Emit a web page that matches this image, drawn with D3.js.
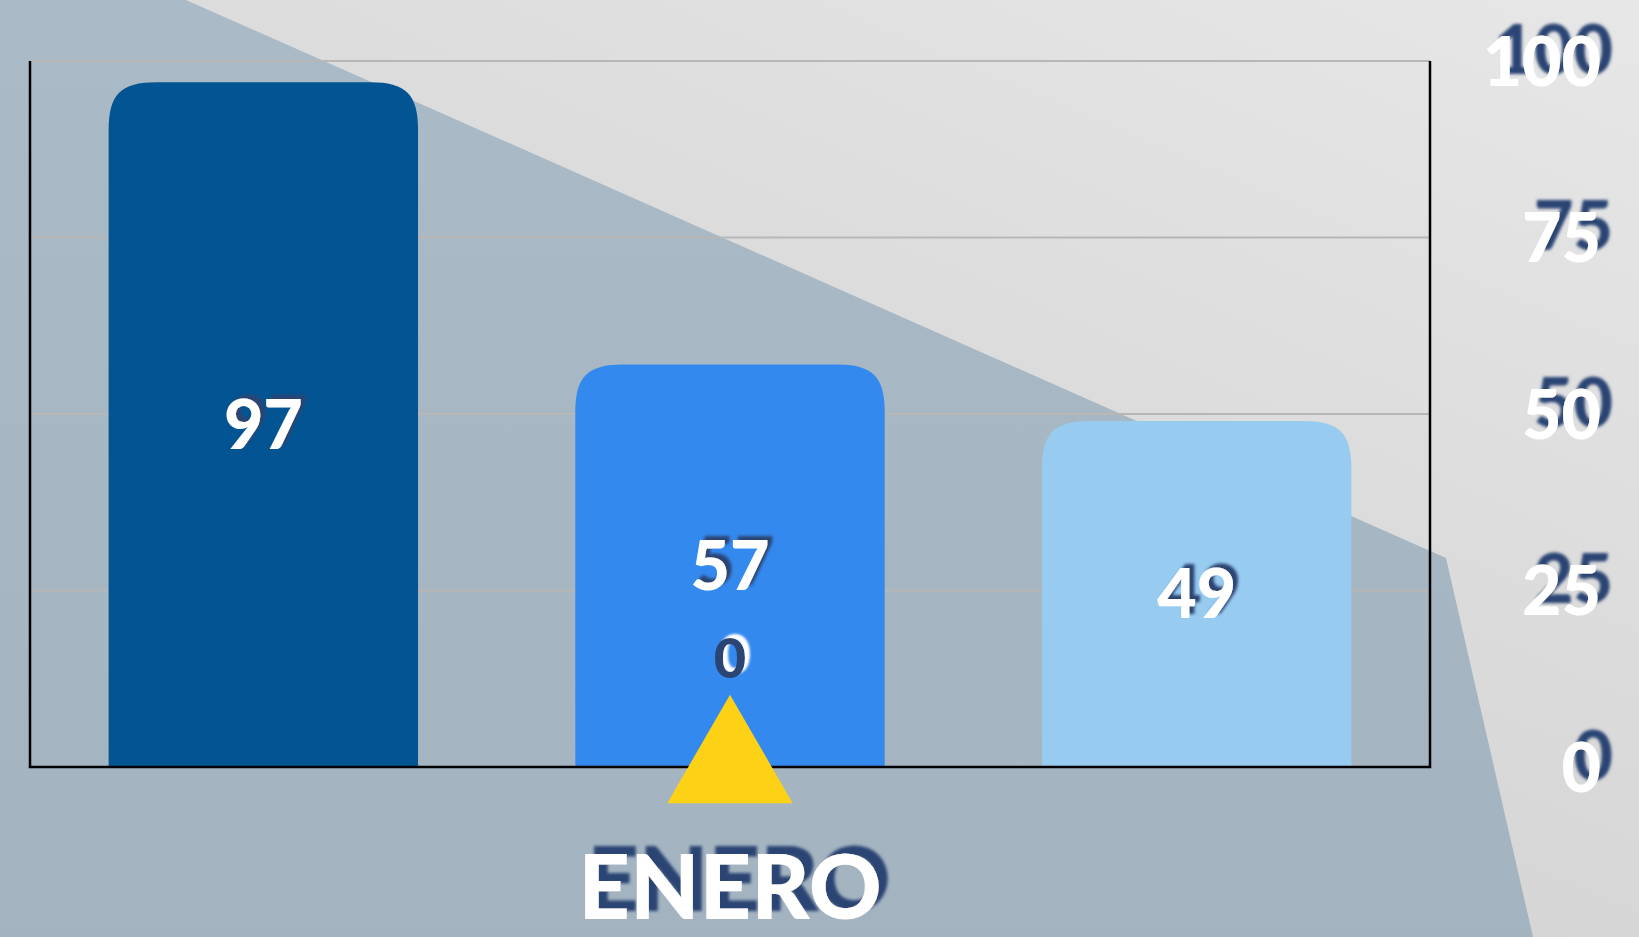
<!DOCTYPE html>
<html>
<head>
<meta charset="utf-8">
<script src="https://cdn.jsdelivr.net/npm/d3@7"></script>
<style>
  html, body { margin: 0; padding: 0; overflow: hidden; background: #d8d8d8; }
  svg { display: block; }
  text { font-family: Lato, "Open Sans", sans-serif; font-weight: 900; }
</style>
</head>
<body>
<svg id="chart" width="1639" height="937"></svg>
<script>
// ---- data ----
const categories = ["ENERO"];
const seriesNames = ["Serie 1", "Serie 2", "Serie 3"];
const seriesValues = [97, 57, 49];
const seriesColors = ["#025492", "#3489EF", "#98CBF0"];
const markerValues = [0];          // triangle marker series (shown on middle bar)
const tickValues = [0, 25, 50, 75, 100];

// ---- layout ----
const W = 1639, H = 937;
const plot = { left: 30, right: 1430, top: 61, bottom: 767 };

const svg = d3.select("#chart");
const defs = svg.append("defs");

const bg = defs.append("linearGradient").attr("id", "bg")
  .attr("x1", "1").attr("y1", "0").attr("x2", "0.25").attr("y2", "1");
bg.append("stop").attr("offset", "0").attr("stop-color", "#e7e7e7");
bg.append("stop").attr("offset", "1").attr("stop-color", "#cdcdcd");

const pg = defs.append("linearGradient").attr("id", "poly")
  .attr("x1", "0").attr("y1", "0").attr("x2", "0").attr("y2", "1");
pg.append("stop").attr("offset", "0").attr("stop-color", "#aabac7");
pg.append("stop").attr("offset", "1").attr("stop-color", "#a3b3c0");

function shadow(id, dx, dy, sd, color) {
  const f = defs.append("filter").attr("id", id)
    .attr("x", "-40%").attr("y", "-60%").attr("width", "180%").attr("height", "220%");
  f.append("feDropShadow").attr("dx", dx).attr("dy", dy)
    .attr("stdDeviation", sd).attr("flood-color", color).attr("flood-opacity", 1);
}
shadow("shTick", 12, -12, 1.6, "#2a4573");
shadow("shBar", 5, -4, 1.6, "#2a4573");
shadow("shCat", 9, -8, 1.6, "#2a4573");
shadow("shZero", 5, -4, 1.2, "#ffffff");

// background
svg.append("rect").attr("width", W).attr("height", H).attr("fill", "url(#bg)");
svg.append("path")
  .attr("d", "M0,0 L186,0 L1446,558 L1533,937 L0,937 Z")
  .attr("fill", "url(#poly)");

// scales
const x0 = d3.scaleBand().domain(categories).range([plot.left, plot.right]);
const x1 = d3.scaleBand().domain(seriesNames).range([0, x0.bandwidth()])
  .paddingInner(0.337).paddingOuter(0.1685);
const y = d3.scaleLinear().domain([0, 100]).range([plot.bottom, plot.top]);

// gridlines
svg.append("g").selectAll("line").data(tickValues.filter(d => d > 0)).join("line")
  .attr("x1", plot.left).attr("x2", plot.right)
  .attr("y1", d => y(d)).attr("y2", d => y(d))
  .attr("stroke", "#b7b7b7").attr("stroke-width", 2);

// bars with rounded top corners
function topRounded(x, yTop, w, h, r) {
  r = Math.min(r, w / 2, h);
  return `M${x},${yTop + h} L${x},${yTop + r} C${x},${yTop + r * 0.25} ${x + r * 0.25},${yTop} ${x + r},${yTop} ` +
         `L${x + w - r},${yTop} C${x + w - r * 0.25},${yTop} ${x + w},${yTop + r * 0.25} ${x + w},${yTop + r} L${x + w},${yTop + h} Z`;
}
const cat = categories[0];
const barData = seriesNames.map((s, i) => ({ s, v: seriesValues[i], c: seriesColors[i] }));
svg.append("g").selectAll("path").data(barData).join("path")
  .attr("d", d => topRounded(x0(cat) + x1(d.s), y(d.v), x1.bandwidth(), y(0) - y(d.v), 48))
  .attr("fill", d => d.c);

// frame: left, bottom, right
const frame = svg.append("g").attr("stroke", "#000").attr("stroke-width", 2.5).attr("fill", "none");
frame.append("path").attr("d", `M${plot.left},${plot.top} L${plot.left},${plot.bottom} L${plot.right},${plot.bottom} L${plot.right},${plot.top}`);

// bar value labels
const fsBar = 68;
svg.append("g").selectAll("text").data(barData).join("text")
  .attr("x", d => x0(cat) + x1(d.s) + x1.bandwidth() / 2)
  .attr("y", d => (y(d.v) + y(0)) / 2 + 0.358 * fsBar)
  .attr("text-anchor", "middle")
  .attr("font-size", fsBar)
  .attr("fill", "#fff")
  .attr("filter", "url(#shBar)")
  .text(d => d.v);

// triangle marker series
const cx = x0(cat) + x0.bandwidth() / 2;
svg.append("g").selectAll("path").data(markerValues).join("path")
  .attr("transform", d => `translate(${cx},${y(d)})`)
  .attr("d", d3.symbol().type(d3.symbolTriangle).size(6800))
  .attr("fill", "#FDD116");
const fsZero = 56;
svg.append("g").selectAll("text").data(markerValues).join("text")
  .attr("x", cx)
  .attr("y", d => y(d) - 109 + 0.358 * fsZero)
  .attr("text-anchor", "middle")
  .attr("font-size", fsZero)
  .attr("fill", "#2a4573")
  .attr("filter", "url(#shZero)")
  .text(d => d);

// category axis label
const xAxis = d3.axisBottom(x0).tickSize(0).tickPadding(0);
const gx = svg.append("g").call(xAxis);
gx.select(".domain").remove();
gx.selectAll("text")
  .attr("y", 919).attr("dy", null)
  .attr("font-size", 90)
  .attr("font-family", "Lato, 'Open Sans', sans-serif")
  .attr("font-weight", 900)
  .attr("fill", "#fff")
  .attr("filter", "url(#shCat)");

// right value axis labels
const yAxis = d3.axisRight(y).tickValues(tickValues).tickSize(0).tickPadding(0);
const gy = svg.append("g").attr("transform", "translate(1601,0)").call(yAxis);
gy.select(".domain").remove();
gy.selectAll("text")
  .attr("x", 0).attr("dy", "0.358em")
  .attr("text-anchor", "end")
  .attr("font-size", 68)
  .attr("font-family", "Lato, 'Open Sans', sans-serif")
  .attr("font-weight", 900)
  .attr("fill", "#fff")
  .attr("filter", "url(#shTick)");
</script>
</body>
</html>
